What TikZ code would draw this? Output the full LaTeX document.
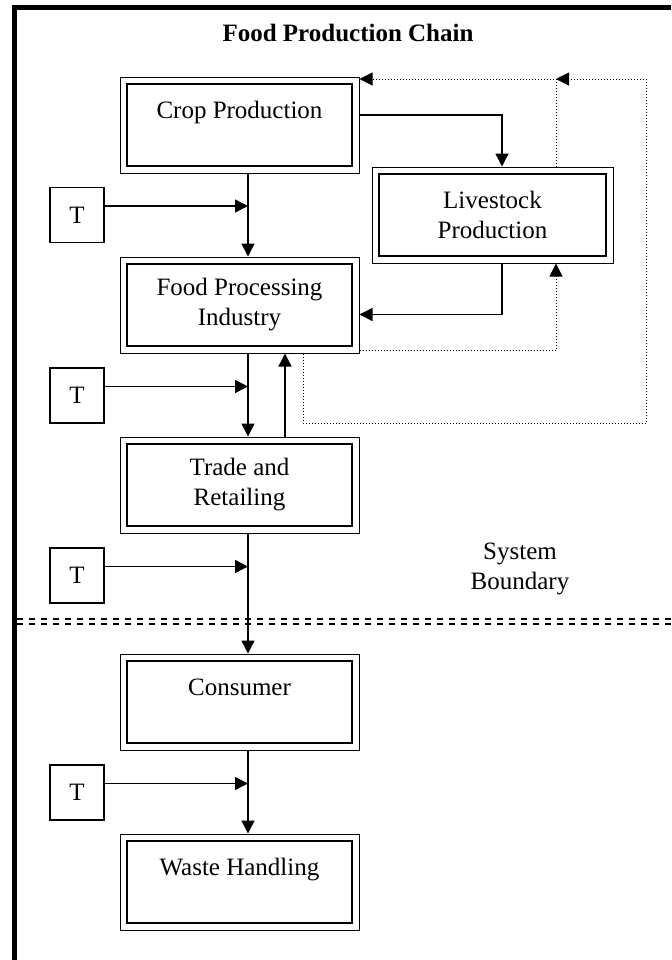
\documentclass[tikz,border=0pt]{standalone}
\usepackage{fontspec}
\setmainfont{Liberation Serif}
\usepackage{tikz}
\usetikzlibrary{arrows.meta, positioning, calc}
\tikzset{
    stage/.style={
        draw=black,
        line width=0.5pt,
        minimum width=119.5pt,
        minimum height=48pt,
        align=center,
        path picture={
            \draw[line width=1pt] ([shift={(3.3pt,-3.3pt)}]path picture bounding box.north west) rectangle ([shift={(-3.3pt,3.3pt)}]path picture bounding box.south east);
        },
    },
    tbox/.style={
        draw=black,
        line width=0.6pt,
        minimum width=27pt,
        minimum height=27.5pt,
    },
    flow/.style={
        ->,
        line width=0.7pt,
    },
    feedback/.style={
        ->,
        line width=0.5pt,
        densely dotted,
    },
    boundaryline/.style={
        line width=1pt,
        dash pattern=on 3pt off 3pt,
    },
}

\begin{document}
\begin{tikzpicture}[x=0.5pt, y=-0.5pt, node distance=90pt, >={Triangle[length=6.5pt,width=6.5pt]}, font=\fontsize{12.5}{15}\selectfont]
      \useasboundingbox (0,0) rectangle (671,960);
      \draw[line width=2.5pt] (14.5,960) -- (14.5,7.5) -- (671,7.5);

      \node [font=\fontsize{12.5}{15}\selectfont\bfseries] (title) at (348,33) {Food Production Chain};

      \node [stage] (crop) at (239.5,125) {Crop Production\\ \mbox{}};
      \node [stage] (proc) [below of=crop] {Food Processing\\Industry};
      \node [stage] (trade) [below of=proc] {Trade and\\Retailing};
      \node [stage] (cons) [node distance=108.5pt, below of=trade] {Consumer\\ \mbox{}};
      \node [stage] (waste) [below of=cons] {Waste Handling\\ \mbox{}};
      \node [stage, minimum width=120.5pt] (live) at (492.5,215) {Livestock\\Production};

      \node [tbox] (t1) at (77,215) {T};
      \node [tbox] (t2) at (77,395.5) {T};
      \node [tbox] (t3) at (77,575.5) {T};
      \node [tbox] (t4) at (77,792.5) {T};

      \node [align=center] (boundary) at (520,569) {System\\Boundary};

      \coordinate (spine) at (248,0);
      \coordinate (back) at (285,0);
      \coordinate (loopbottom) at (646,423);
      \coordinate (looptop) at (646,79);

      \draw[flow] (crop.south -| spine) -- (proc.north -| spine);
      \draw[flow] (proc.south -| spine) -- (trade.north -| spine);
      \draw[flow] (trade.south -| spine) -- (cons.north -| spine);
      \draw[flow] (cons.south -| spine) -- (waste.north -| spine);
      \draw[flow] (trade.north -| back) -- (proc.south -| back);

      \foreach \t in {t1,t2,t3,t4}
        \draw[flow] ([yshift=4.5pt]\t.east) -- ([yshift=4.5pt]\t.east -| spine);

      \draw[flow] ([yshift=5pt]crop.east) -| ([xshift=4.75pt]live.north);
      \draw[flow] ([xshift=4.75pt]live.south) |- ([yshift=-4.75pt]proc.east);

      % dotted return flows
      \draw[feedback] ([yshift=-22.75pt]proc.east) -| ([xshift=31.75pt]live.south);
      \draw[feedback] ([xshift=31.75pt]live.north) |- ([yshift=23pt]crop.east);
      \draw[feedback] ([xshift=31.75pt]proc.south) |- (loopbottom) -- (looptop) -- ([xshift=31.75pt]live.north |- looptop);

      \draw[boundaryline] (17,618.5) -- (671,618.5);
      \draw[boundaryline] (17,623.5) -- (671,623.5);
\end{tikzpicture}
\end{document}
